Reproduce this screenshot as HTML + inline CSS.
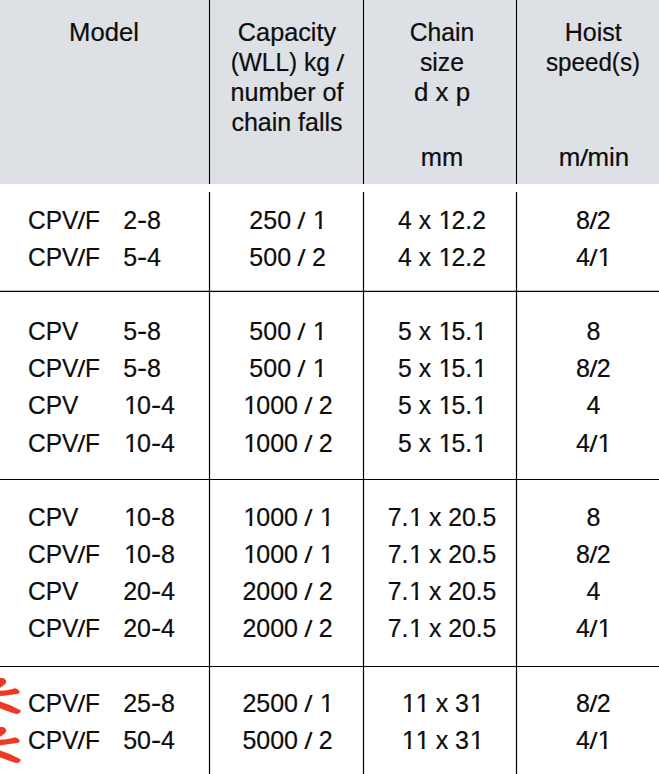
<!DOCTYPE html>
<html><head><meta charset="utf-8"><title>Table</title>
<style>
html,body{margin:0;padding:0;background:#fff;}
body{width:659px;height:774px;position:relative;overflow:hidden;font-family:"Liberation Sans",sans-serif;color:#0d0d0d;}
.t,.c{position:absolute;font-size:25px;line-height:25px;white-space:pre;-webkit-text-stroke:0.20px #0d0d0d;}
.t{transform-origin:0 0;}
.c{text-align:center;transform-origin:50% 0;width:240px;}
.hy{display:inline-block;transform:scaleX(1.22);margin:0 0.8px;}
.o{display:inline-block;position:relative;left:1px;clip-path:polygon(0 0,100% 0,100% 18.9px,8.75px 18.9px,8.75px 100%,6.1px 100%,6.1px 18.9px,0 18.9px);}
.sl{display:inline-block;-webkit-text-stroke:0;transform:scale(1.2,0.975);transform-origin:50% 21px;}
.k{margin-left:-0.6px;margin-right:0.5px;}
.hd{position:absolute;left:0;top:0;width:659px;height:184px;background:#dde0e5;}
svg{position:absolute;left:0;top:0;}
</style></head><body>
<div class="hd"></div>

<svg width="659" height="774" viewBox="0 0 659 774" stroke="#000" stroke-width="1.2" fill="none">
<path d="M209.5 0V184" stroke="#e7eaef" stroke-width="3.4"/>
<path d="M209.5 0V184M209.5 192V774"/>
<path d="M363.5 0V184" stroke="#e7eaef" stroke-width="3.4"/>
<path d="M363.5 0V184M363.5 192V774"/>
<path d="M516.5 0V184" stroke="#e7eaef" stroke-width="3.4"/>
<path d="M516.5 0V184M516.5 192V774"/>
<path d="M0 291.45H659"/>
<path d="M0 479.50H659"/>
<path d="M0 666.50H659"/>
</svg>
<div class="c" style="left:-16.5px;top:20px;transform:scaleX(1.025)">Model</div>
<div class="c" style="left:166.6px;top:20px;transform:scaleX(1.010)">Capacity</div>
<div class="c" style="left:166.8px;top:50px;transform:scaleX(0.977)">(WLL) kg <span class="sl">/</span></div>
<div class="c" style="left:166.8px;top:80px;transform:scaleX(1.005)">number of</div>
<div class="c" style="left:167.0px;top:110px;transform:scaleX(1.000)">chain falls</div>
<div class="c" style="left:321.8px;top:20px;transform:scaleX(0.988)">Chain</div>
<div class="c" style="left:322.1px;top:50px;transform:scaleX(0.990)">size</div>
<div class="c" style="left:321.9px;top:80px;transform:scaleX(1.034)">d x p</div>
<div class="c" style="left:473.3px;top:20px;transform:scaleX(1.000)">Hoist</div>
<div class="c" style="left:473.4px;top:50px;transform:scaleX(0.967)">speed(s)</div>
<div class="c" style="left:321.9px;top:145px;transform:scaleX(1.020)">mm</div>
<div class="c" style="left:473.6px;top:145px;transform:scaleX(1.035)">m<span class="sl">/</span>min</div>
<div class="t" style="left:28.3px;top:208px;transform:scaleX(0.980)">CPV<span class="sl k">/</span>F</div>
<div class="t" style="left:123.2px;top:208px;transform:scaleX(1.000)">2<span class="hy">-</span>8</div>
<div class="c" style="left:167.6px;top:208px;transform:scaleX(1.000)">250 <span class="sl">/</span> <span class="o">1</span></div>
<div class="c" style="left:321.6px;top:208px;transform:scaleX(0.988)">4 x <span class="o">1</span>2.2</div>
<div class="c" style="left:473.3px;top:208px;transform:scaleX(1.000)">8<span class="sl">/</span>2</div>
<div class="t" style="left:28.3px;top:245px;transform:scaleX(0.980)">CPV<span class="sl k">/</span>F</div>
<div class="t" style="left:123.2px;top:245px;transform:scaleX(1.000)">5<span class="hy">-</span>4</div>
<div class="c" style="left:167.6px;top:245px;transform:scaleX(1.000)">500 <span class="sl">/</span> 2</div>
<div class="c" style="left:321.6px;top:245px;transform:scaleX(0.988)">4 x <span class="o">1</span>2.2</div>
<div class="c" style="left:473.3px;top:245px;transform:scaleX(1.000)">4<span class="sl">/</span><span class="o">1</span></div>
<div class="t" style="left:28.3px;top:319px;transform:scaleX(0.980)">CPV</div>
<div class="t" style="left:123.2px;top:319px;transform:scaleX(1.000)">5<span class="hy">-</span>8</div>
<div class="c" style="left:167.6px;top:319px;transform:scaleX(1.000)">500 <span class="sl">/</span> <span class="o">1</span></div>
<div class="c" style="left:321.6px;top:319px;transform:scaleX(0.988)">5 x <span class="o">1</span>5.<span class="o">1</span></div>
<div class="c" style="left:473.5px;top:319px;transform:scaleX(1.000)">8</div>
<div class="t" style="left:28.3px;top:356px;transform:scaleX(0.980)">CPV<span class="sl k">/</span>F</div>
<div class="t" style="left:123.2px;top:356px;transform:scaleX(1.000)">5<span class="hy">-</span>8</div>
<div class="c" style="left:167.6px;top:356px;transform:scaleX(1.000)">500 <span class="sl">/</span> <span class="o">1</span></div>
<div class="c" style="left:321.6px;top:356px;transform:scaleX(0.988)">5 x <span class="o">1</span>5.<span class="o">1</span></div>
<div class="c" style="left:473.3px;top:356px;transform:scaleX(1.000)">8<span class="sl">/</span>2</div>
<div class="t" style="left:28.3px;top:393px;transform:scaleX(0.980)">CPV</div>
<div class="t" style="left:123.2px;top:393px;transform:scaleX(1.000)"><span class="o">1</span>0<span class="hy">-</span>4</div>
<div class="c" style="left:167.6px;top:393px;transform:scaleX(1.000)"><span class="o">1</span>000 <span class="sl">/</span> 2</div>
<div class="c" style="left:321.6px;top:393px;transform:scaleX(0.988)">5 x <span class="o">1</span>5.<span class="o">1</span></div>
<div class="c" style="left:473.5px;top:393px;transform:scaleX(1.000)">4</div>
<div class="t" style="left:28.3px;top:431px;transform:scaleX(0.980)">CPV<span class="sl k">/</span>F</div>
<div class="t" style="left:123.2px;top:431px;transform:scaleX(1.000)"><span class="o">1</span>0<span class="hy">-</span>4</div>
<div class="c" style="left:167.6px;top:431px;transform:scaleX(1.000)"><span class="o">1</span>000 <span class="sl">/</span> 2</div>
<div class="c" style="left:321.6px;top:431px;transform:scaleX(0.988)">5 x <span class="o">1</span>5.<span class="o">1</span></div>
<div class="c" style="left:473.3px;top:431px;transform:scaleX(1.000)">4<span class="sl">/</span><span class="o">1</span></div>
<div class="t" style="left:28.3px;top:505px;transform:scaleX(0.980)">CPV</div>
<div class="t" style="left:123.2px;top:505px;transform:scaleX(1.000)"><span class="o">1</span>0<span class="hy">-</span>8</div>
<div class="c" style="left:167.6px;top:505px;transform:scaleX(1.000)"><span class="o">1</span>000 <span class="sl">/</span> <span class="o">1</span></div>
<div class="c" style="left:321.6px;top:505px;transform:scaleX(0.990)">7.<span class="o">1</span> x 20.5</div>
<div class="c" style="left:473.5px;top:505px;transform:scaleX(1.000)">8</div>
<div class="t" style="left:28.3px;top:542px;transform:scaleX(0.980)">CPV<span class="sl k">/</span>F</div>
<div class="t" style="left:123.2px;top:542px;transform:scaleX(1.000)"><span class="o">1</span>0<span class="hy">-</span>8</div>
<div class="c" style="left:167.6px;top:542px;transform:scaleX(1.000)"><span class="o">1</span>000 <span class="sl">/</span> <span class="o">1</span></div>
<div class="c" style="left:321.6px;top:542px;transform:scaleX(0.990)">7.<span class="o">1</span> x 20.5</div>
<div class="c" style="left:473.3px;top:542px;transform:scaleX(1.000)">8<span class="sl">/</span>2</div>
<div class="t" style="left:28.3px;top:579px;transform:scaleX(0.980)">CPV</div>
<div class="t" style="left:123.2px;top:579px;transform:scaleX(1.000)">20<span class="hy">-</span>4</div>
<div class="c" style="left:167.6px;top:579px;transform:scaleX(1.000)">2000 <span class="sl">/</span> 2</div>
<div class="c" style="left:321.6px;top:579px;transform:scaleX(0.990)">7.<span class="o">1</span> x 20.5</div>
<div class="c" style="left:473.5px;top:579px;transform:scaleX(1.000)">4</div>
<div class="t" style="left:28.3px;top:616px;transform:scaleX(0.980)">CPV<span class="sl k">/</span>F</div>
<div class="t" style="left:123.2px;top:616px;transform:scaleX(1.000)">20<span class="hy">-</span>4</div>
<div class="c" style="left:167.6px;top:616px;transform:scaleX(1.000)">2000 <span class="sl">/</span> 2</div>
<div class="c" style="left:321.6px;top:616px;transform:scaleX(0.990)">7.<span class="o">1</span> x 20.5</div>
<div class="c" style="left:473.3px;top:616px;transform:scaleX(1.000)">4<span class="sl">/</span><span class="o">1</span></div>
<div class="t" style="left:28.3px;top:691px;transform:scaleX(0.980)">CPV<span class="sl k">/</span>F</div>
<div class="t" style="left:123.2px;top:691px;transform:scaleX(1.000)">25<span class="hy">-</span>8</div>
<div class="c" style="left:167.6px;top:691px;transform:scaleX(1.000)">2500 <span class="sl">/</span> <span class="o">1</span></div>
<div class="c" style="left:321.9px;top:691px;transform:scaleX(1.000)"><span class="o">1</span><span class="o">1</span> x 3<span class="o">1</span></div>
<div class="c" style="left:473.3px;top:691px;transform:scaleX(1.000)">8<span class="sl">/</span>2</div>
<div class="t" style="left:28.3px;top:728px;transform:scaleX(0.980)">CPV<span class="sl k">/</span>F</div>
<div class="t" style="left:123.2px;top:728px;transform:scaleX(1.000)">50<span class="hy">-</span>4</div>
<div class="c" style="left:167.6px;top:728px;transform:scaleX(1.000)">5000 <span class="sl">/</span> 2</div>
<div class="c" style="left:321.9px;top:728px;transform:scaleX(1.000)"><span class="o">1</span><span class="o">1</span> x 3<span class="o">1</span></div>
<div class="c" style="left:473.3px;top:728px;transform:scaleX(1.000)">4<span class="sl">/</span><span class="o">1</span></div>
<svg width="659" height="774" viewBox="0 0 659 774" fill="#ee3a24" stroke="#ee3a24" stroke-width="0.1" stroke-linejoin="round">
<path d="M-3.0 678.1 L0.0 678.1 L2.6 678.1 L4.8 679.1 L6.1 680.7 L6.1 682.0 L5.2 684.0 L2.6 685.9 L0.0 687.8 L-3.0 687.8Z"/>
<path d="M-3.0 690.7 L0.0 690.7 L5.2 690.4 L9.0 689.8 L12.9 688.9 L14.5 688.2 L17.1 689.1 L19.1 690.7 L19.7 692.0 L19.1 693.3 L16.8 694.1 L12.9 694.6 L9.0 695.1 L3.9 695.8 L0.0 696.0 L-3.0 696.0Z"/>
<path d="M-3.0 701.4 L0.0 701.4 L3.9 703.0 L9.7 705.1 L14.9 707.5 L19.4 709.8 L20.8 710.8 L20.4 712.1 L18.7 713.5 L16.5 714.0 L12.9 713.0 L6.5 710.8 L0.0 708.3 L-3.0 708.3Z"/>
<path d="M-3.0 727.1 L0.0 727.1 L2.6 727.1 L4.8 728.1 L6.1 729.7 L6.1 731.0 L5.2 733.0 L2.6 734.9 L0.0 736.8 L-3.0 736.8Z"/>
<path d="M-3.0 739.7 L0.0 739.7 L5.2 739.4 L9.0 738.8 L12.9 737.9 L14.5 737.2 L17.1 738.1 L19.1 739.7 L19.7 741.0 L19.1 742.3 L16.8 743.1 L12.9 743.6 L9.0 744.1 L3.9 744.8 L0.0 745.0 L-3.0 745.0Z"/>
<path d="M-3.0 750.4 L0.0 750.4 L3.9 752.0 L9.7 754.1 L14.9 756.5 L19.4 758.8 L20.8 759.8 L20.4 761.1 L18.7 762.5 L16.5 763.0 L12.9 762.0 L6.5 759.8 L0.0 757.3 L-3.0 757.3Z"/>
</svg>
</body></html>
